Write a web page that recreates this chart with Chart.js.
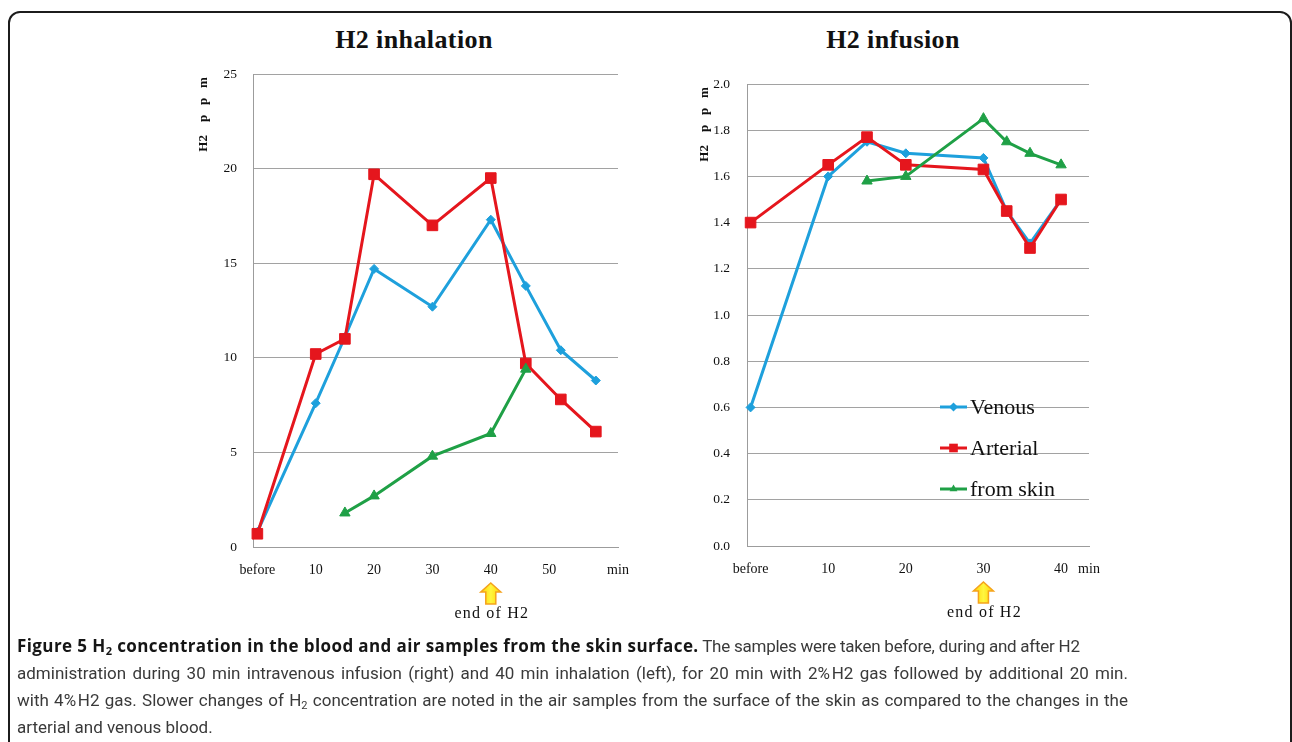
<!DOCTYPE html>
<html>
<head>
<meta charset="utf-8">
<script src="https://cdn.jsdelivr.net/npm/chart.js@4.4.1/dist/chart.umd.min.js"></script>
<style>
  body { margin: 0; background: #fff; width: 1292px; height: 742px; overflow: hidden; position: relative; }
  .frame { position: absolute; left: 8px; top: 11px; width: 1280px; height: 790px; border: 2px solid #1c1c1c; border-radius: 12px; }
  .title { position: absolute; top: 25px; font: bold 26px "Liberation Serif", serif; letter-spacing: 0.4px; color: #111; transform: translateX(-50%); white-space: nowrap; line-height: 30px; }
  canvas { position: absolute; }
  #caption { position: absolute; left: 17px; top: 632px; font: 17px Roboto, sans-serif; line-height: 27px; color: #3a3a3a; white-space: nowrap; }
  #caption div { width: 1111px; }
  #caption .just { text-align: justify; text-align-last: justify; }
  #caption .tight { letter-spacing: -0.25px; }
  #caption b { color: #151515; font-family: "Open Sans", sans-serif; font-weight: 700; letter-spacing: 0.4px; }
  #caption sub { font-size: 0.65em; vertical-align: -0.25em; line-height: 0; }
</style>
</head>
<body>
<div class="frame"></div>
<div class="title" style="left:414px">H2 inhalation</div>
<div class="title" style="left:893px">H2 infusion</div>
<canvas id="inhalation" width="460" height="620" style="left:190px; top:60px"></canvas>
<canvas id="infusion" width="440" height="620" style="left:690px; top:60px"></canvas>
<div id="caption">
  <div><b>Figure 5 H<sub>2</sub> concentration in the blood and air samples from the skin surface.</b><span class="tight"> The samples were taken before, during and after H2</span></div>
  <div class="just">administration during 30 min intravenous infusion (right) and 40 min inhalation (left), for 20 min with 2%&#8202;H2 gas followed by additional 20 min.</div>
  <div class="just">with 4%&#8202;H2 gas. Slower changes of H<sub>2</sub> concentration are noted in the air samples from the surface of the skin as compared to the changes in the</div>
  <div>arterial and venous blood.</div>
</div>
<script>
// ---- H2 inhalation (left panel) ----
const inhalationMinutes = [0, 10, 15, 20, 30, 40, 46, 52, 58];
const inhalationVenous = [0.8, 7.6, 11.1, 14.7, 12.7, 17.3, 13.8, 10.4, 8.8];
const inhalationArterial = [0.7, 10.2, 11.0, 19.7, 17.0, 19.5, 9.7, 7.8, 6.1];
const inhalationSkinMinutes = [15, 20, 30, 40, 46];
const inhalationSkin = [1.8, 2.7, 4.8, 6.0, 9.4];
const inhalationXTicks = [0, 10, 20, 30, 40, 50];
const inhalationYTicks = [0, 5, 10, 15, 20, 25];

// ---- H2 infusion (right panel) ----
const infusionMinutes = [0, 10, 15, 20, 30, 33, 36, 40];
const infusionVenous = [0.6, 1.6, 1.75, 1.7, 1.68, 1.45, 1.31, 1.5];
const infusionArterial = [1.4, 1.65, 1.77, 1.65, 1.63, 1.45, 1.29, 1.5];
const infusionSkinMinutes = [15, 20, 30, 33, 36, 40];
const infusionSkin = [1.58, 1.6, 1.85, 1.75, 1.7, 1.65];
const infusionXTicks = [0, 10, 20, 30, 40];
const infusionYTicks = [0, 0.2, 0.4, 0.6, 0.8, 1.0, 1.2, 1.4, 1.6, 1.8, 2.0];

const seriesNames = ['Venous', 'Arterial', 'from skin'];
const seriesColors = ['#1ea0dc', '#e5161d', '#1fa046'];
const seriesPoints = ['rectRot', 'rect', 'triangle'];
const yTitle = 'H2    p   p   m ';
const arrowLabel = 'end of H2';

Chart.defaults.font.family = '"Liberation Serif", serif';
Chart.defaults.color = '#111';

const toXY = (xs, ys) => xs.map((x, i) => ({ x: x, y: ys[i] }));

// small marker shapes for the legend, same look as the chart points
function drawMarker(ctx, style, x, y, r) {
    ctx.beginPath();
    if (style === 'rectRot') {
        ctx.moveTo(x, y - r); ctx.lineTo(x + r, y); ctx.lineTo(x, y + r); ctx.lineTo(x - r, y);
    } else if (style === 'rect') {
        ctx.rect(x - r * 0.72, y - r * 0.72, r * 1.44, r * 1.44);
    } else {
        ctx.moveTo(x, y - r);
        ctx.lineTo(x + r * 0.87, y + r * 0.5);
        ctx.lineTo(x - r * 0.87, y + r * 0.5);
    }
    ctx.closePath();
    ctx.fill();
}

function drawArrow(ctx, x, top, bottom) {
    const headH = 9, headW = 10, shaftW = 5;
    const grad = ctx.createLinearGradient(x - headW, 0, x + headW, 0);
    grad.addColorStop(0, '#ffd400');
    grad.addColorStop(0.5, '#fff640');
    grad.addColorStop(1, '#ffd400');
    ctx.save();
    ctx.beginPath();
    ctx.moveTo(x, top);
    ctx.lineTo(x + headW, top + headH);
    ctx.lineTo(x + shaftW, top + headH);
    ctx.lineTo(x + shaftW, bottom);
    ctx.lineTo(x - shaftW, bottom);
    ctx.lineTo(x - shaftW, top + headH);
    ctx.lineTo(x - headW, top + headH);
    ctx.closePath();
    ctx.fillStyle = grad;
    ctx.fill();
    ctx.lineWidth = 1.5;
    ctx.strokeStyle = '#f5a21c';
    ctx.stroke();
    ctx.restore();
}

// arrow + "end of H2" under the x axis, optional legend inside the plot
const extrasPlugin = {
    id: 'extras',
    afterDraw(chart, args, opts) {
        const ctx = chart.ctx;
        const x = chart.scales.x.getPixelForValue(opts.arrowAt);
        const base = chart.chartArea.bottom;
        drawArrow(ctx, x, base + 36, base + 57);
        ctx.save();
        ctx.font = '16px "Liberation Serif"';
        ctx.letterSpacing = '1.2px';
        ctx.fillStyle = '#111';
        ctx.textAlign = 'center';
        ctx.textBaseline = 'middle';
        ctx.fillText(arrowLabel, x + 1, base + 67);
        ctx.restore();

        if (opts.legend) {
            const lg = opts.legend;
            chart.data.datasets.forEach((ds, i) => {
                const y = lg.y + i * lg.gap;
                ctx.save();
                ctx.strokeStyle = ds.borderColor;
                ctx.fillStyle = ds.borderColor;
                ctx.lineWidth = 3;
                ctx.beginPath();
                ctx.moveTo(lg.x, y);
                ctx.lineTo(lg.x + 27, y);
                ctx.stroke();
                drawMarker(ctx, ds.pointStyle, lg.x + 13.5, y, ds.pointStyle === 'rect' ? 6 : 4.5);
                ctx.font = '22px "Liberation Serif"';
                ctx.fillStyle = '#111';
                ctx.textBaseline = 'middle';
                ctx.fillText(ds.label, lg.x + 30, y + 1);
                ctx.restore();
            });
        }
    }
};

function makeChart(id, panel) {
    const ys = [panel.venous, panel.arterial, panel.skin];
    const xs = [panel.minutes, panel.minutes, panel.skinMinutes];
    const datasets = seriesNames.map((name, i) => ({
        label: name,
        data: toXY(xs[i], ys[i]),
        borderColor: seriesColors[i],
        backgroundColor: seriesColors[i],
        pointBackgroundColor: seriesColors[i],
        pointBorderColor: seriesColors[i],
        pointBorderWidth: 1,
        pointStyle: seriesPoints[i],
        pointRadius: [4.5, 7.5, 6][i],
        borderWidth: 3,
        tension: 0,
        clip: false,
        order: 3 - i
    }));

    return new Chart(document.getElementById(id), {
        type: 'line',
        data: { datasets: datasets },
        options: {
            responsive: false,
            animation: false,
            devicePixelRatio: 1,
            layout: { padding: panel.padding },
            plugins: {
                legend: { display: false },
                tooltip: { enabled: false },
                extras: { arrowAt: panel.arrowAt, legend: panel.legend }
            },
            scales: {
                x: {
                    type: 'linear',
                    min: panel.xMin,
                    max: panel.xMax,
                    grid: { display: false, drawTicks: false },
                    border: { display: true, color: '#9c9c9c', width: 1 },
                    afterBuildTicks: (s) => {
                        s.ticks = panel.xTicks.concat([panel.xMax]).map(v => ({ value: v }));
                    },
                    afterFit: (s) => { s.height = 40; s.paddingLeft = 0; s.paddingRight = 0; },
                    ticks: {
                        autoSkip: false,
                        maxRotation: 0,
                        padding: 15,
                        font: { size: 14 },
                        callback: (v) => v === 0 ? 'before' : (v === panel.xMax ? 'min' : v)
                    }
                },
                y: {
                    min: 0,
                    max: panel.yTicks[panel.yTicks.length - 1],
                    grid: { color: '#a2a2a2', lineWidth: 1, drawTicks: false },
                    border: { display: true, color: '#9c9c9c', width: 1 },
                    afterBuildTicks: (s) => {
                        s.ticks = panel.yTicks.map(v => ({ value: v }));
                    },
                    afterFit: (s) => { s.width = panel.yWidth; s.paddingTop = 0; s.paddingBottom = 0; },
                    title: {
                        display: true,
                        text: yTitle,
                        align: 'end',
                        font: { size: 13, weight: 'bold' },
                        padding: { top: panel.titlePad, bottom: 0 }
                    },
                    ticks: {
                        padding: panel.yTickPad,
                        font: { size: 13.5 },
                        callback: (v) => panel.decimals ? v.toFixed(1) : v
                    }
                }
            }
        },
        plugins: [extrasPlugin]
    });
}

makeChart('inhalation', {
    minutes: inhalationMinutes,
    venous: inhalationVenous,
    arterial: inhalationArterial,
    skinMinutes: inhalationSkinMinutes,
    skin: inhalationSkin,
    xTicks: inhalationXTicks,
    yTicks: inhalationYTicks,
    xMin: -0.75,
    xMax: 61.8,
    decimals: false,
    arrowAt: 40,
    yWidth: 63,
    yTickPad: 16,
    titlePad: 6,
    padding: { left: 0, top: 14, right: 32, bottom: 93 },
    legend: null
});

makeChart('infusion', {
    minutes: infusionMinutes,
    venous: infusionVenous,
    arterial: infusionArterial,
    skinMinutes: infusionSkinMinutes,
    skin: infusionSkin,
    xTicks: infusionXTicks,
    yTicks: infusionYTicks,
    xMin: -0.46,
    xMax: 43.6,
    decimals: true,
    arrowAt: 30,
    yWidth: 57,
    yTickPad: 17,
    titlePad: 7,
    padding: { left: 0, top: 24, right: 41, bottom: 94 },
    legend: { x: 250, y: 347, gap: 41 }
});
</script>
</body>
</html>
